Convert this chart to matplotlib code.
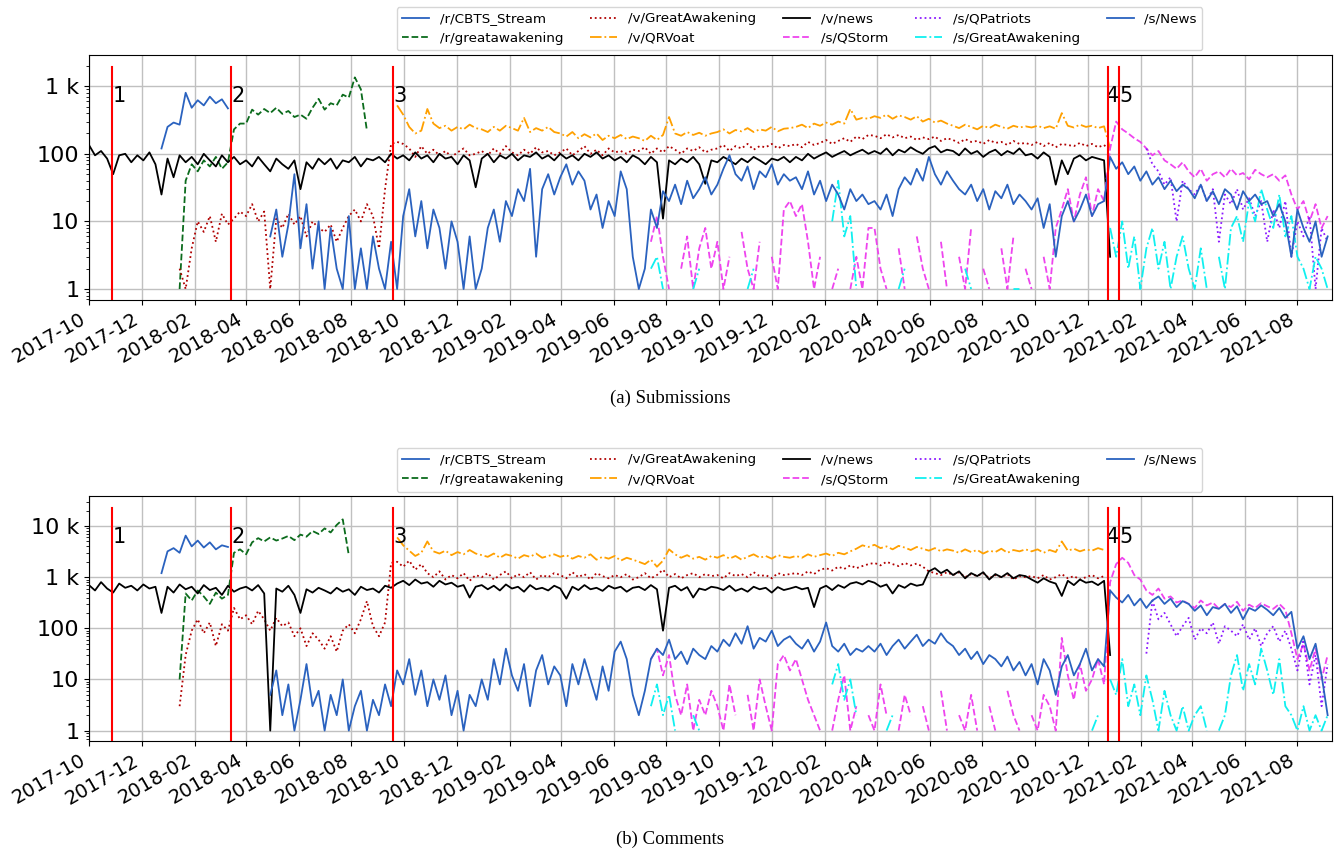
import matplotlib
matplotlib.use('Agg')
import matplotlib.pyplot as plt
import matplotlib.dates as mdates
from matplotlib.ticker import EngFormatter, NullFormatter
import numpy as np
import pandas as pd

nan = float('nan')

labels = ['/r/CBTS_Stream', '/r/greatawakening', '/v/GreatAwakening', '/v/QRVoat',
          '/v/news', '/s/QStorm', '/s/QPatriots', '/s/GreatAwakening', '/s/News']
starts = ['2017-12-24', '2018-01-14', '2018-01-14', '2018-09-23',
          '2017-10-01', '2019-07-14', '2021-02-07', '2019-07-14', '2018-04-29']
colors = ['#2a62bf', '#0b6b1c', '#b00000', '#ffa000',
          'black', '#ee44ee', '#8c1aff', '#10f0f0', '#2a62bf']
styles = ['-', '--', ':', '-.', '-', '--', ':', '-.', '-']

events = ['2017-10-28', '2018-03-14', '2018-09-18', '2020-12-25', '2021-01-06']
event_labels = ['1', '2', '3', '4', '5']

# ---- submissions, weekly values (one row ~ one quarter) ----
sub_cbts = [120, 250, 290, 270, 800, 480, 620, 520, 700, 560, 640, 470]
sub_rga = [1, 40, 70, 55, 80, 65, 90, 60, 75, 230, 280, 280, 450, 380, 460, 400,
           480, 390, 430, 350, 380, 330, 480, 650, 450, 560, 520, 750, 680, 1350, 900, 220]
sub_vga = [2, 1, 4, 10, 7, 12, 5, 13, 9, 11, 14,
           12, 18, 10, 14, 1, 11, 8, 13, 9, 12, 6, 10, 8,
           7, 9, 5, 8, 12, 15, 10, 18, 12, 4, 30, 140, 150,
           140, 120, 90, 130, 100, 115, 95, 110, 90, 105, 120, 95, 100,
           110, 95, 120, 100, 130, 105, 95, 115, 100, 125, 105, 110, 95,
           105, 120, 95, 110, 130, 100, 115, 95, 120, 105, 110, 100, 115,
           110, 125, 100, 120, 105, 130, 115, 100, 120, 110, 125, 105, 115,
           120, 135, 110, 130, 120, 140, 115, 130, 125, 140, 120, 135, 130,
           140, 125, 150, 135, 145, 160, 140, 155, 170, 150, 180, 165, 190,
           185, 170, 195, 175, 190, 170, 180, 160, 175, 165, 180, 155, 170,
           160, 145, 165, 150, 155, 140, 160, 145, 150, 135, 155, 140, 145,
           135, 150, 130, 145, 125, 140, 135, 130, 145, 130, 140, 125, 135,
           110]
sub_qrv = [520,
           380, 250, 200, 220, 460, 280, 240, 260, 220, 250, 230, 270, 240,
           230, 210, 250, 220, 260, 240, 220, 340, 210, 240, 220, 250, 210,
           200, 180, 210, 170, 195, 175, 200, 160, 185, 170, 190, 165, 180,
           170, 155, 185, 160, 190, 350, 200, 185, 210, 190, 205, 185, 200,
           210, 230, 200, 225, 215, 240, 210, 230, 220, 250, 215, 235, 240,
           250, 270, 240, 280, 260, 290, 270, 300, 280, 460, 320, 340, 330,
           360, 340, 380, 330, 370, 350, 320, 360, 300, 330, 290, 310, 280,
           260, 240, 270, 250, 230, 260, 240, 270, 250, 235, 260, 245, 255,
           245, 260, 240, 255, 235, 400, 260, 245, 270, 250, 260, 240, 255,
           120]
sub_vnews = [135, 95, 110, 85, 50, 95, 100, 75, 95, 80, 105, 70, 25,
             85, 45, 95, 75, 90, 70, 100, 80, 65, 95, 75, 90, 70,
             80, 65, 90, 70, 55, 85, 70, 60, 80, 30, 75, 60, 85,
             70, 85, 60, 80, 75, 90, 65, 85, 80, 90, 75, 100, 85,
             95, 80, 105, 85, 95, 75, 100, 85, 90, 70, 95, 80, 32,
             85, 100, 75, 95, 85, 100, 80, 95, 90, 105, 85, 95, 80,
             100, 85, 95, 80, 100, 90, 105, 85, 95, 80, 90, 75, 95,
             85, 70, 90, 75, 11, 80, 70, 85, 75, 90, 70, 36, 80,
             75, 90, 80, 70, 85, 75, 90, 80, 70, 85, 80, 90, 75,
             90, 80, 100, 85, 95, 105, 90, 100, 110, 95, 105, 115, 100,
             110, 100, 120, 95, 115, 105, 125, 110, 100, 120, 130, 105, 115,
             110, 95, 120, 100, 110, 90, 105, 115, 95, 110, 100, 120, 95,
             100, 85, 105, 90, 35, 80, 50, 85, 95, 80, 90, 85, 80,
             3]
sub_qstorm = [5, 12, 3, 1, nan, 2, 6, 1, 4, 8, 2,
              5, 1, 3, nan, 7, 2, 1, 5, nan, 3, 1, 15, 20,
              12, 18, 5, 1, 3, nan, 1, 2, nan, 1, 3, 1, 8,
              8, 2, 1, nan, 4, 1, nan, 6, 2, 1, nan, 5, 1,
              nan, 3, 1, 8, nan, 2, 1, nan, 4, 1, 6, nan, 2,
              1, nan, 3, 1, 8, 15, 30, 10, 25, 45, 12, 30, 20,
              120, 300, 230, 200, 170, 150, 120, 95, 110, 80, 70, 60, 75,
              55, 45, 60, 40, 50, 55, 45, 60, 48, 52, 42, 58, 50,
              45, 50, 40, 48, 25, 15, 20, 10, 18, 8, 12]
sub_qpat = [120, 70, 55, 35, 45, 10, 40, 30, 25, 35, 20, 30, 5, 25, 18, 30,
            15, 22, 12, 20, 5, 15, 8, 20, 3, 10, 6, 12, 1, 8, 5]
sub_sga = ([2, 3, 1, nan, nan, nan, nan, 1, 2, nan, nan]
           + [nan, nan, nan, nan, nan, 1, 2, nan, nan, nan, nan, nan, nan]
           + [nan, nan, nan, nan, nan, nan, 10, 40, 6, 12, 1, nan, nan]
           + [nan, nan, nan, nan, 1, 2, nan, nan, nan, nan, nan, nan, nan]
           + [nan, nan, 2, 1, nan, nan, nan, nan, nan, nan, 1, 1, nan]
           + [nan] * 13
           + [8, 3, 10, 2, 6, 1, 4, 8, 2, 5, 1, 3, 6]
           + [2, 1, 4, 1, nan, 3, 1, 8, 12, 5, 20, 10, 30]
           + [15, 8, 25, 6, 12, 3, 2, 1, 3, 2, 1])
sub_snews = [6, 15, 3, 9, 50, 4, 18, 2, 10,
             1, 8, 2, 1, 12, 1, 4, 1, 6, 2, 1, 5, 1,
             12, 30, 6, 20, 4, 15, 8, 2, 10, 5, 1, 6, 1,
             2, 8, 15, 5, 20, 12, 30, 20, 60, 3, 30, 50, 25,
             45, 70, 35, 55, 40, 15, 25, 8, 20, 12, 55, 30, 3,
             1, 2, 15, 8, 28, 20, 35, 18, 40, 22, 30, 45, 25,
             35, 60, 95, 50, 40, 65, 30, 55, 45, 70, 35, 50, 40,
             45, 30, 55, 25, 40, 20, 35, 25, 15, 30, 20, 25, 18,
             20, 15, 25, 12, 30, 45, 35, 60, 40, 90, 50, 35, 55,
             40, 30, 25, 35, 20, 30, 15, 28, 22, 35, 18, 25, 20,
             15, 22, 8, 18, 3, 12, 20, 10, 15, 25, 12, 18, 20,
             90, 60, 75, 50, 65, 40, 55, 35, 45, 30, 40, 28, 35,
             30, 22, 35, 20, 28, 18, 30, 25, 15, 28, 20, 25, 18,
             20, 12, 18, 10, 3, 15, 8, 5, 10, 3, 6]

# ---- comments ----
com_cbts = [1200, 3200, 3700, 3000, 6500, 4000, 5200, 3800, 4800, 3500, 4200, 3900]
com_rga = [10, 480, 350, 550, 420, 300, 500, 380, 450, 3000, 3500, 2800, 4800, 5800,
           5000, 6000, 5200, 5700, 6400, 5300, 6800, 6200, 8000, 7000, 9000, 7500,
           10500, 13500, 2700]
com_vga = [3, 30, 90, 150, 80, 130, 45, 120, 90, 250, 150,
           180, 120, 220, 150, 90, 160, 110, 130, 70, 100, 45, 80, 60,
           40, 70, 35, 90, 120, 80, 150, 340, 110, 70, 130, 1900, 2000,
           1600, 2100, 1400, 1800, 1200, 1000, 1300, 900, 1100, 950, 1200, 850, 1100,
           1000, 1200, 900, 1100, 1300, 950, 1150, 1000, 1250, 900, 1100, 1000, 1200,
           1100, 950, 1250, 1000, 1150, 900, 1200, 1050, 950, 1100, 1000, 1150, 900,
           1000, 1200, 950, 1100, 1400, 1000, 1150, 950, 1100, 1200, 1000, 1150, 1050,
           1100, 950, 1200, 1050, 1150, 1000, 1250, 1050, 1100, 950, 1200, 1100, 1150,
           1200, 1100, 1300, 1150, 1400, 1500, 1350, 1600, 1450, 1700, 1500, 1650, 1800,
           1900, 1700, 2000, 1800, 1650, 1900, 1700, 1850, 1600, 1300, 1200, 1100, 1250,
           1100, 1250, 1000, 1150, 1050, 1200, 950, 1100, 1000, 1150, 900, 1050, 1000,
           1050, 950, 1100, 900, 1000, 1150, 950, 1050, 900, 1000, 1100, 950, 1050]
com_qrv = [6000,
           4200, 3300, 2600, 3000, 5000, 3200, 2900, 3300, 2700, 3100, 2800, 3400, 2900,
           2700, 2500, 2900, 2400, 2800, 2600, 2300, 2700, 2500, 2900, 2400, 2600, 2800,
           2500, 2700, 2300, 2600, 2400, 2800, 2200, 2500, 2300, 2600, 2100, 2400, 2200,
           2000, 1800, 2200, 1600, 2100, 3500, 2800, 2400, 2700, 2300, 2500, 2200, 2600,
           2400, 2700, 2300, 2600, 2200, 2500, 2800, 2400, 2600, 2300, 2700, 2500, 2400,
           2600, 2400, 2800, 2500, 2700, 2900, 2600, 3000, 2800, 3200, 3600, 4200, 3900,
           4300, 3700, 4000, 3500, 4100, 3800, 3400, 3900, 3600, 3300, 3700, 3200, 3500,
           3300, 3000, 3500, 3100, 3400, 2900, 3300, 3100, 3600, 3000, 3400, 3200, 3500,
           3200, 3500, 3000, 3400, 3100, 5000, 3300, 3600, 3200, 3500, 3300, 3700, 3400]
com_vnews = [700, 550, 800, 600, 500, 750, 620, 680, 550, 720, 600, 650, 200,
             650, 500, 720, 580, 650, 480, 700, 560, 620, 450, 680, 520, 600,
             650, 550, 700, 480, 1, 600, 520, 680, 450, 200, 580, 500, 620,
             550, 480, 620, 520, 580, 450, 650, 560, 600, 500, 680, 620, 750,
             850, 700, 900, 750, 800, 650, 850, 720, 780, 650, 700, 400, 650,
             700, 580, 680, 550, 720, 600, 650, 520, 700, 580, 620, 550, 680,
             600, 380, 650, 560, 700, 580, 620, 540, 680, 600, 650, 520, 620,
             650, 560, 700, 580, 90, 620, 680, 550, 640, 400, 600, 560, 650,
             620, 560, 680, 540, 600, 520, 650, 580, 620, 500, 640, 560, 600,
             650, 580, 620, 260, 600, 680, 560, 700, 620, 750, 800, 720, 850,
             780, 650, 720, 480, 700, 620, 750, 680, 720, 1300, 1500, 1200, 1400,
             1100, 1300, 950, 1200, 1050, 1250, 900, 1150, 1000, 1200, 950, 1100, 1050,
             900, 780, 950, 820, 750, 430, 850, 700, 900, 780, 820, 700, 850,
             30]
com_qstorm = [25, 40, 12, 30, 5, 2, 8, 1, 4, 2, 6,
              3, 1, 8, 2, nan, 5, 1, 10, 3, 1, 20, 30, 15,
              25, 10, 4, 2, 1, nan, 1, 4, 12, 1, 3, nan, 2,
              1, 8, 2, nan, 1, 5, 2, nan, 3, 1, nan, 6, 1,
              nan, 2, 1, 5, 1, nan, 3, 1, nan, 6, 2, 1, nan,
              2, 1, 5, 3, 1, 65, 12, 4, 20, 6, 10, 25, 8,
              800, 1800, 2400, 1900, 1100, 900, 550, 450, 600, 380, 420, 320, 350,
              300, 250, 350, 280, 320, 240, 300, 260, 330, 220, 290, 250, 310,
              270, 240, 300, 230, 80, 25, 50, 15, 40, 10, 30]
com_qpat = [32, 350, 150, 200, 120, 70, 110, 160, 60, 100, 80, 130, 50, 110, 90, 70,
            120, 60, 100, 45, 80, 110, 55, 90, 40, 15, 60, 8, 30, 3, 20]
com_sga = ([3, 8, 2, 5, 1, nan, nan, 2, 1, nan, nan]
           + [nan] * 13
           + [nan, nan, nan, nan, nan, nan, 8, 20, 4, 10, 2, nan, nan]
           + [nan, nan, 1, 2, nan, nan, nan, nan, nan, nan, nan, nan, nan]
           + [nan] * 13
           + [nan, nan, nan, nan, nan, nan, nan, nan, nan, nan, 1, 2, nan]
           + [10, 5, 25, 3, 8, 2, 12, 4, 1, 6, 2, 1, 3]
           + [1, 2, 3, 1, nan, 1, 2, 12, 30, 6, 20, 8, 40]
           + [15, 5, 25, 3, 2, 1, 3, 1, 2, 1, 2])
com_snews = [5, 15, 2, 8, 1, 4, 20, 3, 6,
             1, 5, 2, 10, 1, 3, 6, 1, 4, 2, 8, 3, 15,
             8, 25, 5, 15, 3, 10, 4, 12, 2, 6, 1, 5, 3,
             10, 4, 25, 8, 40, 12, 6, 20, 3, 15, 30, 8, 18,
             12, 3, 20, 8, 25, 10, 4, 18, 6, 35, 55, 25, 5,
             2, 6, 25, 40, 30, 60, 25, 35, 20, 40, 30, 25, 45,
             35, 60, 45, 80, 50, 110, 40, 65, 55, 90, 45, 60, 70,
             50, 40, 60, 35, 55, 130, 45, 35, 50, 30, 40, 35, 45,
             35, 50, 30, 45, 60, 40, 55, 75, 45, 60, 50, 80, 55,
             45, 30, 40, 25, 35, 20, 30, 25, 18, 28, 15, 22, 12,
             20, 8, 25, 15, 5, 18, 30, 12, 20, 40, 15, 25, 18,
             550, 400, 320, 450, 280, 380, 250, 350, 420, 300, 380, 260, 340,
             300, 220, 280, 180, 260, 240, 300, 200, 270, 150, 250, 220, 280,
             230, 180, 250, 160, 210, 40, 70, 25, 50, 12, 2]

submissions = [sub_cbts, sub_rga, sub_vga, sub_qrv, sub_vnews,
               sub_qstorm, sub_qpat, sub_sga, sub_snews]
comments = [com_cbts, com_rga, com_vga, com_qrv, com_vnews,
            com_qstorm, com_qpat, com_sga, com_snews]


def draw(ax, series, ylim):
    for lab, start, vals, col, ls in zip(labels, starts, series, colors, styles):
        x = pd.date_range(start, periods=len(vals), freq='7D')
        ax.plot(x, np.array(vals, dtype=float), color=col, ls=ls, lw=1.3, label=lab)
    ax.set_yscale('log')
    ax.set_ylim(*ylim)
    ax.set_xlim(pd.Timestamp('2017-10-01'), pd.Timestamp('2021-09-10'))
    ax.yaxis.set_major_formatter(EngFormatter())
    ax.yaxis.set_minor_formatter(NullFormatter())
    ax.xaxis.set_major_locator(mdates.MonthLocator(bymonth=[2, 4, 6, 8, 10, 12]))
    ax.xaxis.set_major_formatter(mdates.DateFormatter('%Y-%m'))
    ax.grid(True, which='major', color='#c0c0c0', lw=1)
    ax.tick_params(axis='y', labelsize=16)
    ax.tick_params(axis='x', labelsize=14)
    plt.setp(ax.get_xticklabels(), rotation=30, ha='right')
    xt = ax.get_xaxis_transform()
    for i, (d, t) in enumerate(zip(events, event_labels)):
        d = pd.Timestamp(d)
        ax.axvline(d, ymin=0, ymax=0.953, color='red', lw=1.5, zorder=5)
        if t == '4':
            # "4" sits just left of line 5 so that it reads "45" like the original
            ax.text(pd.Timestamp(events[i + 1]), 0.875, t, transform=xt,
                    fontsize=15, va='top', ha='right')
        else:
            ax.text(d + pd.Timedelta(days=1), 0.875, t, transform=xt,
                    fontsize=15, va='top', ha='left')
    ax.legend(loc='lower center', bbox_to_anchor=(0.5716, 1.02), ncol=5,
              fontsize=9.7, borderaxespad=0)


fig = plt.figure(figsize=(13.4, 8.5), dpi=100)
ax1 = fig.add_axes([0.0664, 0.647, 0.9276, 0.288])
ax2 = fig.add_axes([0.0664, 0.128, 0.9276, 0.288])

draw(ax1, submissions, (0.687, 2870))
draw(ax2, comments, (0.62, 38000))

fig.text(0.5, 1 - 398 / 850, '(a) Submissions', ha='center', va='center',
         fontsize=13.5, family='Liberation Serif')
fig.text(0.5, 1 - 839 / 850, '(b) Comments', ha='center', va='center',
         fontsize=13.5, family='Liberation Serif')

fig.savefig('out.png', dpi=100)
